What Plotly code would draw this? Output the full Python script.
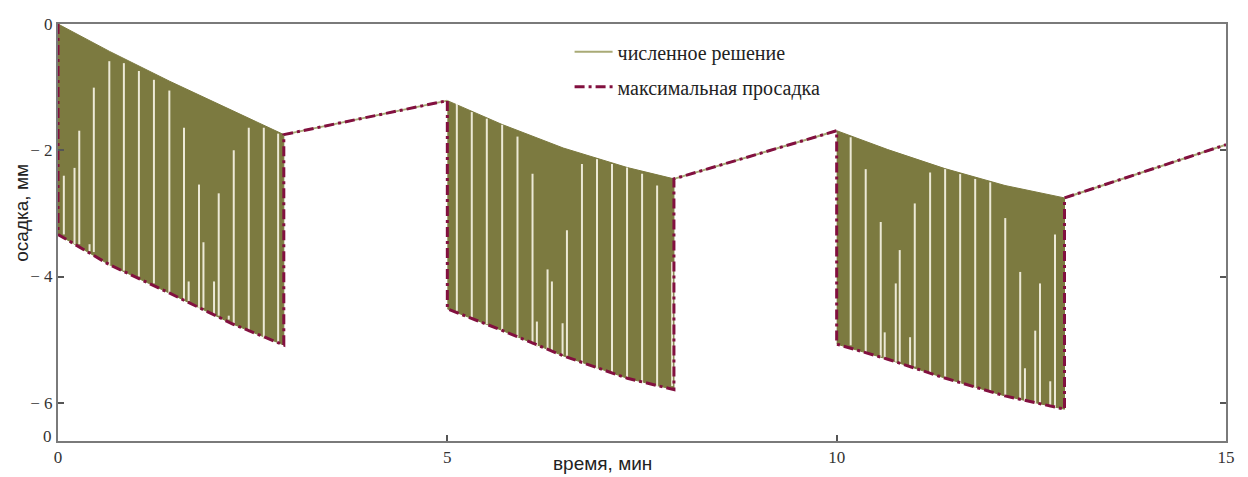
import plotly.graph_objects as go

# ---------------- data ----------------
# loading phases: time (min), upper and lower envelope of the numerical solution (mm)
seg1_t = [0.0, 0.662, 1.434, 2.244, 2.900]
seg1_up = [0.0, -0.434, -0.907, -1.372, -1.752]
seg1_lo = [-3.333, -3.814, -4.264, -4.752, -5.085]

seg2_t = [5.0, 5.704, 6.489, 7.312, 7.910]
seg2_up = [-1.214, -1.592, -1.964, -2.274, -2.453]
seg2_lo = [-4.512, -4.853, -5.256, -5.612, -5.791]

seg3_t = [10.0, 10.656, 11.389, 12.161, 12.926]
seg3_up = [-1.690, -1.989, -2.290, -2.558, -2.755]
seg3_lo = [-5.070, -5.310, -5.608, -5.891, -6.101]

# end of the last recovery phase
end_t = 15.0
end_y = -1.912

# light (aliasing) gaps inside the oscillating numerical solution: time, top, bottom
gap_t = [0.075, 0.212, 0.273, 0.405, 0.460, 0.659, 0.846, 1.039, 1.232, 1.430,
         1.618, 1.678, 1.811, 1.868, 2.004, 2.064, 2.193, 2.257, 2.450, 2.643, 2.827,
         5.122, 5.314, 5.507, 5.704, 5.901, 6.094, 6.150, 6.287, 6.343, 6.480,
         6.536, 6.729, 6.922, 7.115, 7.308, 7.501, 7.694, 7.887,
         10.180, 10.373, 10.566, 10.617, 10.759, 10.810, 10.943, 11.003, 11.200, 11.393,
         11.586, 11.779, 11.972, 12.165, 12.357, 12.418, 12.550, 12.611, 12.743, 12.804]
gap_top = [-2.403, -2.279, -1.690, -3.488, -1.008, -0.589, -0.620, -0.744, -0.884, -1.054,
           -1.643, -4.078, -2.543, -3.457, -4.078, -2.682, -4.620, -2.000, -1.643, -1.643, -1.736,
           -1.267, -1.395, -1.499, -1.597, -1.783, -2.372, -4.713, -3.887, -4.078, -4.740,
           -3.267, -2.217, -2.140, -2.217, -2.274, -2.372, -2.558, -3.767,
           -1.794, -2.299, -3.136, -4.884, -4.109, -3.581, -4.961, -2.842, -2.352, -2.299,
           -2.377, -2.454, -2.507, -3.074, -3.927, -5.453, -4.857, -4.109, -5.659, -3.333]
gap_bot = [-3.333, -3.488, -3.488, -3.597, -3.612, -3.829, -3.907, -4.000, -4.109, -4.264,
           -4.372, -4.388, -4.496, -4.496, -4.620, -4.620, -4.682, -4.760, -4.884, -4.992, -5.070,
           -4.543, -4.651, -4.755, -4.853, -4.961, -5.085, -5.116, -5.163, -5.178, -5.240,
           -5.271, -5.380, -5.457, -5.535, -5.612, -5.690, -5.736, -5.736,
           -5.090, -5.194, -5.271, -5.298, -5.349, -5.360, -5.411, -5.426, -5.530, -5.608,
           -5.685, -5.763, -5.840, -5.891, -5.943, -5.969, -6.020, -6.020, -6.073, -6.073]

x_ticks = [0, 5, 10, 15]
x_ticktext = ["0", "5", "10", "15"]
y_ticks = [0, -2, -4, -6]
y_ticktext = ["0", "\u2212 2", "\u2212 4", "\u2212 6"]

name_num = "численное решение"
name_max = "максимальная просадка"
x_title = "время, мин"
y_title = "осадка, мм"

# ---------------- styles ----------------
OLIVE = "#7c7a40"
OLIVE_LINE = "#a9aa76"
GAP = "#ece9d6"
MAROON = "#82103f"
AXIS = "#7a7a7a"
SERIF = "Liberation Serif, Times New Roman, serif"
SANS = "Liberation Sans, Arial, sans-serif"

segments = [(seg1_t, seg1_up, seg1_lo), (seg2_t, seg2_up, seg2_lo), (seg3_t, seg3_up, seg3_lo)]

fig = go.Figure()

# filled band of the rapidly oscillating numerical solution
for t, up, lo in segments:
    fig.add_trace(go.Scatter(
        x=t + t[::-1], y=up + lo[::-1], mode="lines", fill="toself",
        fillcolor=OLIVE, line=dict(color=OLIVE, width=1),
        hoverinfo="skip", showlegend=False, legendgroup="num"))

# gaps
gx, gy = [], []
for t, a, b in zip(gap_t, gap_top, gap_bot):
    gx += [t, t, None]
    gy += [a, b, None]
fig.add_trace(go.Scatter(x=gx, y=gy, mode="lines", line=dict(color=GAP, width=2),
                         hoverinfo="skip", showlegend=False, legendgroup="num"))

# recovery phases of the numerical solution (thin olive line)
nx, ny = [], []
ups_next = [(seg2_t[0], seg2_up[0]), (seg3_t[0], seg3_up[0]), (end_t, end_y)]
for (t, up, lo), (tn, yn) in zip(segments, ups_next):
    nx += [t[-1], tn, None]
    ny += [up[-1], yn, None]
fig.add_trace(go.Scatter(x=nx, y=ny, mode="lines", name=name_num,
                         line=dict(color=OLIVE_LINE, width=2), legendgroup="num"))

# maximal sag line
mx, my = [], []
for (t, up, lo), (tn, yn) in zip(segments, ups_next):
    mx += [t[0]] + t + [t[-1], tn]
    my += [up[0]] + lo + [up[-1], yn]
fig.add_trace(go.Scatter(x=mx, y=my, mode="lines", name=name_max,
                         line=dict(color=MAROON, width=3, dash="10px,4px,3px,4px"),
                         legendgroup="max"))

# the page body has an 8px default margin, so the figure is 8px smaller on each side
fig.update_layout(
    width=1240, height=469, autosize=False,
    margin=dict(l=50, r=22, t=7, b=36),
    paper_bgcolor="white", plot_bgcolor="white",
    showlegend=True,
    legend=dict(x=0.438, y=0.98, xanchor="left", yanchor="top",
                traceorder="grouped", tracegroupgap=6, itemwidth=38,
                font=dict(family=SERIF, size=20, color="#222222"),
                bgcolor="rgba(0,0,0,0)"),
    xaxis=dict(range=[0, 15], tickvals=x_ticks, ticktext=x_ticktext,
               showgrid=False, zeroline=False, showline=True, linecolor=AXIS, linewidth=2,
               mirror=True, ticks="inside", ticklen=6, tickwidth=2, tickcolor="#555555",
               ticklabeloverflow="allow",
               tickfont=dict(family=SERIF, size=17, color="#333333")),
    yaxis=dict(range=[-6.605, 0.0], tickvals=y_ticks, ticktext=y_ticktext,
               showgrid=False, zeroline=False, showline=True, linecolor=AXIS, linewidth=2,
               mirror="ticks", ticks="inside", ticklen=6, tickwidth=2, tickcolor="#555555",
               ticklabeloverflow="allow",
               tickfont=dict(family=SERIF, size=17, color="#333333")),
    annotations=[
        dict(text="0", xref="paper", yref="paper", x=0, y=0.01, xanchor="right",
             yanchor="middle", xshift=-4, showarrow=False,
             font=dict(family=SERIF, size=17, color="#333333")),
        dict(text=x_title, xref="paper", yref="paper", x=0.466, y=-0.053,
             xanchor="center", yanchor="middle", showarrow=False,
             font=dict(family=SANS, size=19, color="#222222")),
        dict(text=y_title, xref="paper", yref="paper", x=-0.0315, y=0.548,
             xanchor="center", yanchor="middle", textangle=-90, showarrow=False,
             font=dict(family=SANS, size=19, color="#222222")),
    ],
)

fig.write_html("out.html")
